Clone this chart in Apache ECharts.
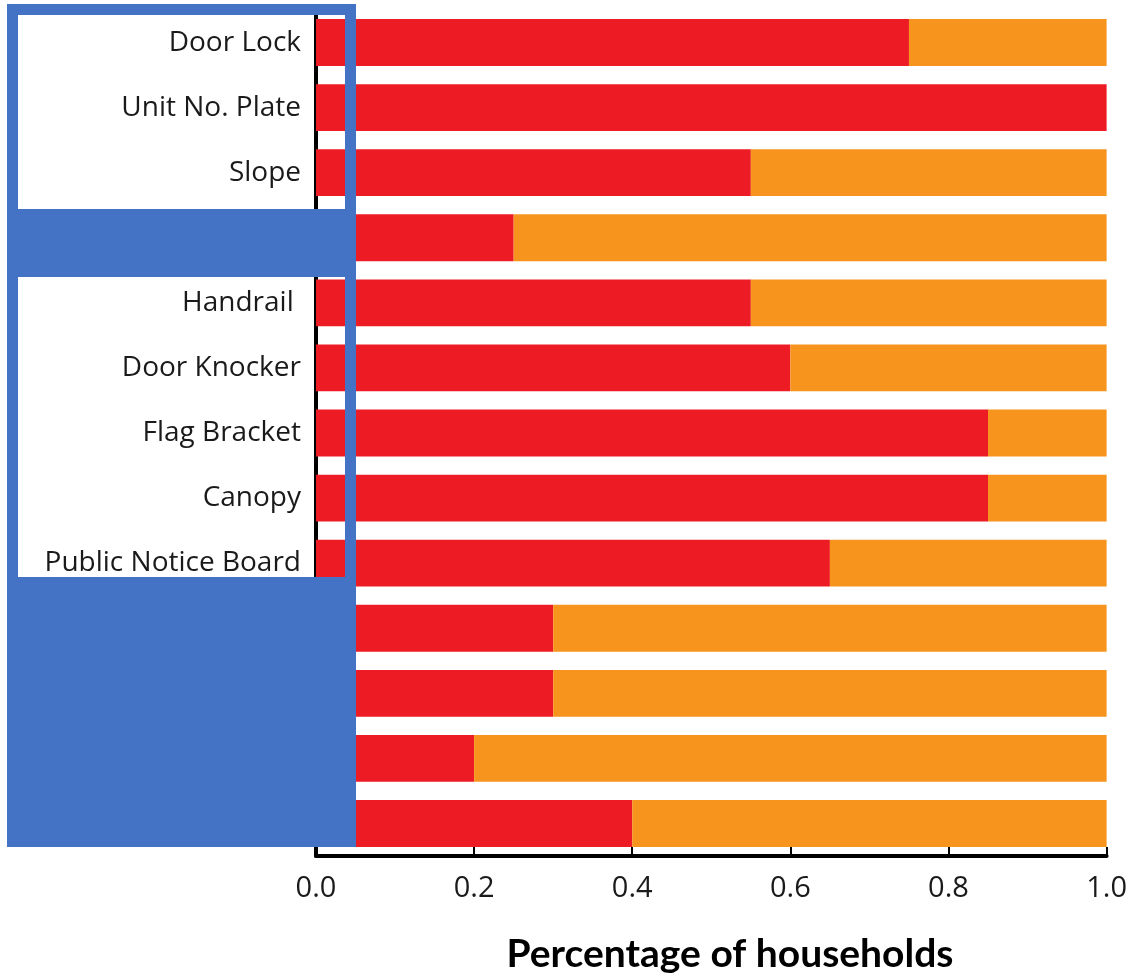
<!DOCTYPE html>
<html>
<head>
<meta charset="utf-8">
<script src="https://cdn.jsdelivr.net/npm/echarts@6/dist/echarts.min.js"></script>
<style>html,body{margin:0;padding:0;background:#fff}#c{width:1130px;height:976px}</style>
</head>
<body>
<div id="c"></div>
<script>
// Categories (top to bottom); hidden ones are covered by the blue boxes in the reference
const categories = ["Door Lock", "Unit No. Plate", "Slope", " ", "Handrail ", "Door Knocker", "Flag Bracket", "Canopy", "Public Notice Board", "  ", "   ", "    ", "     "];
const redValues = [0.75, 1.0, 0.55, 0.25, 0.55, 0.60, 0.85, 0.85, 0.65, 0.30, 0.30, 0.20, 0.40];
const orangeValues = [0.25, 0.0, 0.45, 0.75, 0.45, 0.40, 0.15, 0.15, 0.35, 0.70, 0.70, 0.80, 0.60];
const xTicks = [0, 0.2, 0.4, 0.6, 0.8, 1.0];
const axisTitle = "Percentage of households";

const chart = echarts.init(document.getElementById('c'), null, {renderer: 'canvas'});
chart.setOption({
  animation: false,
  backgroundColor: '#ffffff',
  grid: {left: 316, right: 20, top: 10, bottom: 120, containLabel: false},
  xAxis: {
    type: 'value', min: 0, max: 1, interval: 0.2,
    axisLine: {show: true, lineStyle: {color: '#000', width: 4}},
    axisTick: {show: true, inside: true, length: 9, lineStyle: {color: '#000', width: 2}},
    splitLine: {show: false},
    axisLabel: {
      margin: 18, fontFamily: 'Open Sans', fontSize: 29, color: '#1a1a1a',
      formatter: v => xTicks.includes(Math.round(v * 10) / 10) ? v.toFixed(1) : ''
    }
  },
  yAxis: {
    type: 'category', data: categories, inverse: true, offset: 3,
    axisLine: {show: true, lineStyle: {color: '#000', width: 4}},
    axisTick: {show: true, inside: true, length: 6, alignWithLabel: true, lineStyle: {color: '#000', width: 2}},
    axisLabel: {margin: 12, fontFamily: 'Open Sans', fontSize: 28, color: '#1a1a1a'}
  },
  series: [
    {type: 'bar', stack: 's', data: redValues, barWidth: '72%', itemStyle: {color: '#ED1C24'}, z: 3},
    {type: 'bar', stack: 's', data: orangeValues, barWidth: '72%', itemStyle: {color: '#F7941D'}, z: 3}
  ],
  graphic: [
    {type: 'text', x: 730, y: 954, z: 10,
      style: {text: axisTitle, font: 'bold 39px Lato', fill: '#000', textAlign: 'center', textVerticalAlign: 'middle'}},
    {type: 'rect', z: 100, shape: {x: 12.5, y: 9.5, width: 338, height: 575},
      style: {fill: 'none', stroke: '#4472C4', lineWidth: 11}},
    {type: 'rect', z: 100, shape: {x: 7, y: 209, width: 349, height: 68},
      style: {fill: '#4472C4'}},
    {type: 'rect', z: 100, shape: {x: 7, y: 577, width: 349, height: 270},
      style: {fill: '#4472C4'}}
  ]
});
</script>
</body>
</html>
